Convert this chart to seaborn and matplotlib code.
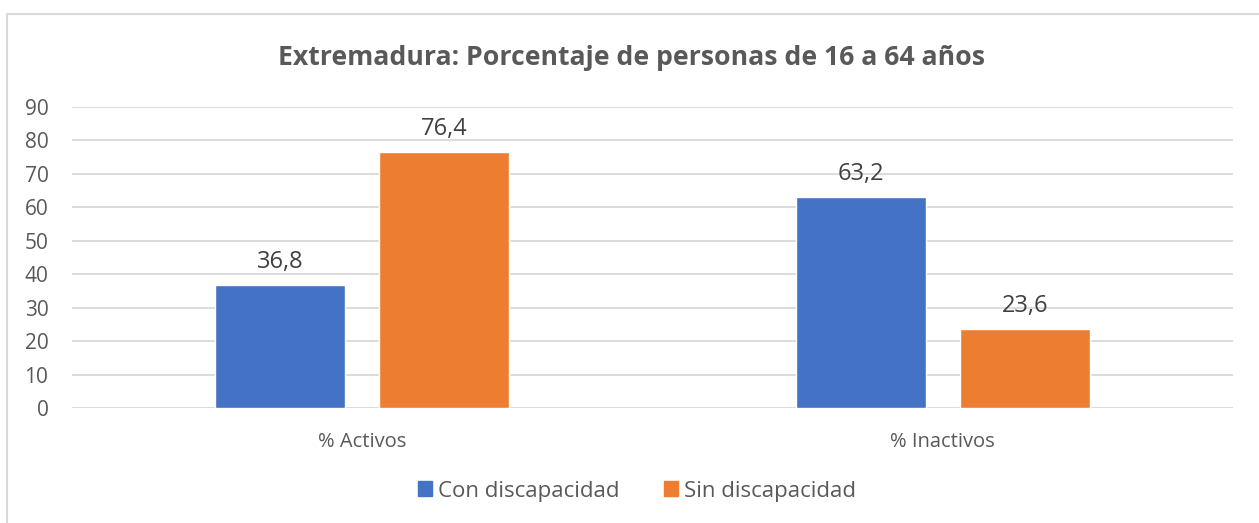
import pandas as pd
import seaborn as sns
import matplotlib.pyplot as plt
from matplotlib.patches import Rectangle

categories = ["% Activos", "% Inactivos"]
series = ["Con discapacidad", "Sin discapacidad"]
con_disc = [36.8, 63.2]
sin_disc = [76.4, 23.6]
colors = ["#4472C4", "#ED7D31"]

df = pd.DataFrame({
    "Categoria": categories * 2,
    "Grupo": [series[0]] * 2 + [series[1]] * 2,
    "Valor": con_disc + sin_disc,
})

sns.set_theme(style="white")
plt.rcParams["font.family"] = ["Open Sans", "DejaVu Sans"]
text_gray = "#595959"

W, H = 1259, 523
fig = plt.figure(figsize=(W / 100, H / 100), dpi=100)
ax = fig.add_axes([72 / W, 1 - 408 / H, (1233 - 72) / W, (408 - 107) / H])

sns.barplot(data=df, x="Categoria", y="Valor", hue="Grupo", order=categories,
            hue_order=series, palette=colors, width=0.565, gap=0.21,
            saturation=1, ax=ax, legend=False)

ax.set_ylim(0, 90)
ax.set_yticks(range(0, 91, 10))
ax.yaxis.grid(True, color="#d9d9d9", linewidth=1.3)
ax.set_axisbelow(True)
for s in ax.spines.values():
    s.set_visible(False)
ax.set_xlabel("")
ax.set_ylabel("")
ax.tick_params(axis="y", labelsize=15, colors=text_gray, length=0, pad=17)
ax.tick_params(axis="x", labelsize=14.5, colors=text_gray, length=0, pad=17)

for cont in ax.containers:
    ax.bar_label(cont, labels=[f"{v:.1f}".replace(".", ",") for v in cont.datavalues],
                 padding=8, fontsize=17, color="#404040")

fig.text(632 / W, 1 - 58 / H, "Extremadura: Porcentaje de personas de 16 a 64 años",
         ha="center", va="center", fontsize=19.2, fontweight="bold", color=text_gray)

handles = [Rectangle((0, 0), 1, 1, color=c) for c in colors]
fig.legend(handles, series, loc="center", bbox_to_anchor=(637 / W, 1 - 491 / H),
           ncol=2, frameon=False, fontsize=16, labelcolor=text_gray,
           handlelength=0.65, handleheight=0.65, handletextpad=0.25, columnspacing=2.0)

fig.patches.append(Rectangle((7 / W, -0.1), 1.2, 1 - 14 / H + 0.1,
                             transform=fig.transFigure, fill=False,
                             edgecolor="#d9d9d9", linewidth=1.5))

fig.savefig("out.png", dpi=100)
